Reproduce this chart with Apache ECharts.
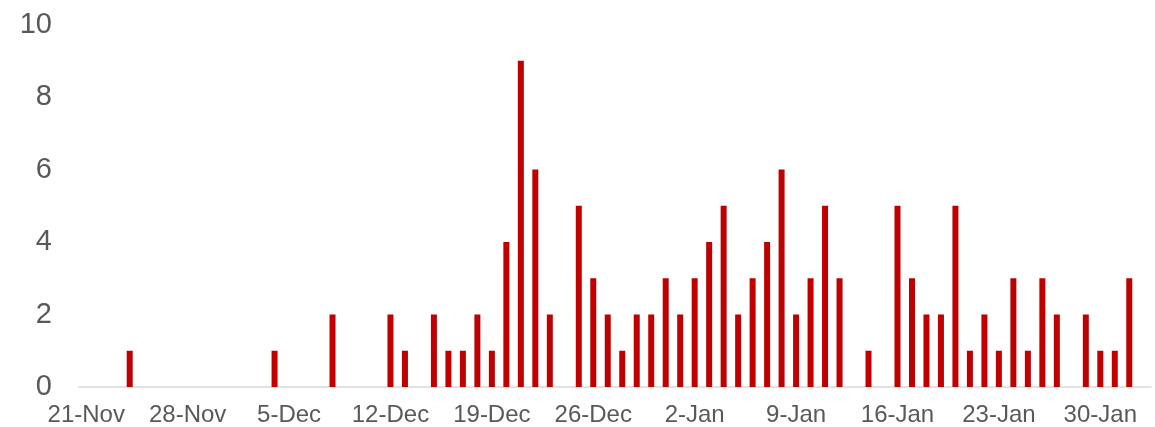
<!DOCTYPE html>
<html>
<head>
<meta charset="utf-8">
<script src="https://cdn.jsdelivr.net/npm/echarts@6/dist/echarts.min.js"></script>
<style>
html,body{margin:0;padding:0;background:#fff;}
#chart{width:1155px;height:427px;}
</style>
</head>
<body>
<div id="chart"></div>
<script>
const categories = [
  "21-Nov","22-Nov","23-Nov","24-Nov","25-Nov","26-Nov","27-Nov",
  "28-Nov","29-Nov","30-Nov","1-Dec","2-Dec","3-Dec","4-Dec",
  "5-Dec","6-Dec","7-Dec","8-Dec","9-Dec","10-Dec","11-Dec",
  "12-Dec","13-Dec","14-Dec","15-Dec","16-Dec","17-Dec","18-Dec",
  "19-Dec","20-Dec","21-Dec","22-Dec","23-Dec","24-Dec","25-Dec",
  "26-Dec","27-Dec","28-Dec","29-Dec","30-Dec","31-Dec","1-Jan",
  "2-Jan","3-Jan","4-Jan","5-Jan","6-Jan","7-Jan","8-Jan",
  "9-Jan","10-Jan","11-Jan","12-Jan","13-Jan","14-Jan","15-Jan",
  "16-Jan","17-Jan","18-Jan","19-Jan","20-Jan","21-Jan","22-Jan",
  "23-Jan","24-Jan","25-Jan","26-Jan","27-Jan","28-Jan","29-Jan",
  "30-Jan","31-Jan","1-Feb","2-Feb"
];
const counts = [
  0,0,0,1,0,0,0,
  0,0,0,0,0,0,1,
  0,0,0,2,0,0,0,
  2,1,0,2,1,1,2,
  1,4,9,6,2,0,5,
  3,2,1,2,2,3,2,
  3,4,5,2,3,4,6,
  2,3,5,3,0,1,0,
  5,3,2,2,5,1,2,
  1,3,1,3,2,0,2,
  1,1,3,0
];
const yTicks = [0,2,4,6,8,10];

const chart = echarts.init(document.getElementById('chart'), null, {renderer:'canvas'});
chart.setOption({
  animation:false,
  backgroundColor:'#ffffff',
  grid:{left:79,right:4,top:24.5,bottom:39,containLabel:false},
  xAxis:{
    type:'category',
    data:categories,
    boundaryGap:true,
    axisLine:{show:true,lineStyle:{color:'#d9d9d9',width:1.5}},
    axisTick:{show:false},
    splitLine:{show:false},
    axisLabel:{
      interval:6,
      color:'#595959',
      fontFamily:'Liberation Sans, Arial, sans-serif',
      fontSize:24,
      margin:16
    }
  },
  yAxis:{
    type:'value',
    min:yTicks[0],
    max:yTicks[yTicks.length-1],
    interval:2,
    axisLine:{show:false},
    axisTick:{show:false},
    splitLine:{show:false},
    axisLabel:{
      color:'#595959',
      fontFamily:'Liberation Sans, Arial, sans-serif',
      fontSize:29,
      margin:27
    }
  },
  series:[{
    type:'bar',
    data:counts,
    barWidth:6,
    itemStyle:{color:'#c00000'}
  }]
});
</script>
</body>
</html>
